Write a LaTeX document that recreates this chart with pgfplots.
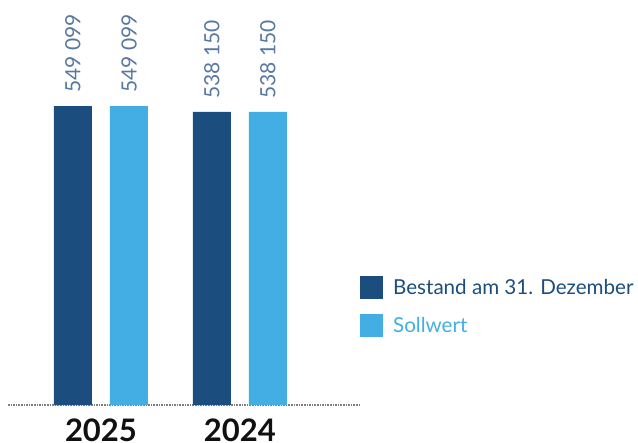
\documentclass[border=0pt]{standalone}
\usepackage{pgfplots}
\pgfplotsset{compat=1.18}
\usepackage{fontspec}
\setmainfont{Lato}

\definecolor{bestand}{HTML}{1B4D7E}
\definecolor{soll}{HTML}{42AEE3}
\definecolor{wert}{HTML}{5878A0}
\definecolor{jahr}{HTML}{111111}

\begin{document}
\begin{tikzpicture}
\begin{axis}[
  scale only axis,
  width=353bp, height=405bp,
  xmin=-0.669, xmax=1.871,
  ymin=0, ymax=743800,
  ybar, bar width=38bp,
  hide y axis,
  axis x line*=bottom,
  x axis line style={-, draw=gray, densely dotted, line width=1.6bp},
  xtick={0,1}, xticklabels={2025,2024},
  xtick style={draw=none},
  xticklabel style={font=\fontsize{31bp}{33bp}\selectfont\bfseries, text=jahr, yshift=-6bp},
  nodes near coords,
  /pgf/number format/.cd, fixed, precision=0, 1000 sep={\ }, assume math mode=true,
  /pgfplots/.cd,
  every node near coord/.append style={rotate=90, anchor=west, text=wert,
     font=\fontsize{21bp}{24bp}\selectfont, inner xsep=13bp, inner ysep=0pt},
  legend style={at={(axis description cs:0.997,0.318)}, anchor=north west,
     draw=none, fill=none, inner sep=0pt, row sep=15bp, column sep=8bp,
     font=\fontsize{20.6bp}{24bp}\selectfont},
  legend cell align=left,
  legend image code/.code={\fill[#1, draw=none] (0bp,-12bp) rectangle (23bp,11bp);},
]
% Bestand am 31. Dezember
\addplot[fill=bestand, draw=none, bar shift=-28bp]
  coordinates {(0,549099) (1,538150)};
\addlegendentry{\textcolor{bestand}{Bestand am 31. Dezember}}
% Sollwert
\addplot[fill=soll, draw=none, bar shift=28bp]
  coordinates {(0,549099) (1,538150)};
\addlegendentry{\textcolor{soll}{Sollwert}}
\coordinate (o) at (rel axis cs:0,0);
\end{axis}
\pgfresetboundingbox
\path[use as bounding box] ([xshift=-8bp,yshift=-38bp]o) rectangle ++(638bp,443bp);
\end{tikzpicture}
\end{document}
